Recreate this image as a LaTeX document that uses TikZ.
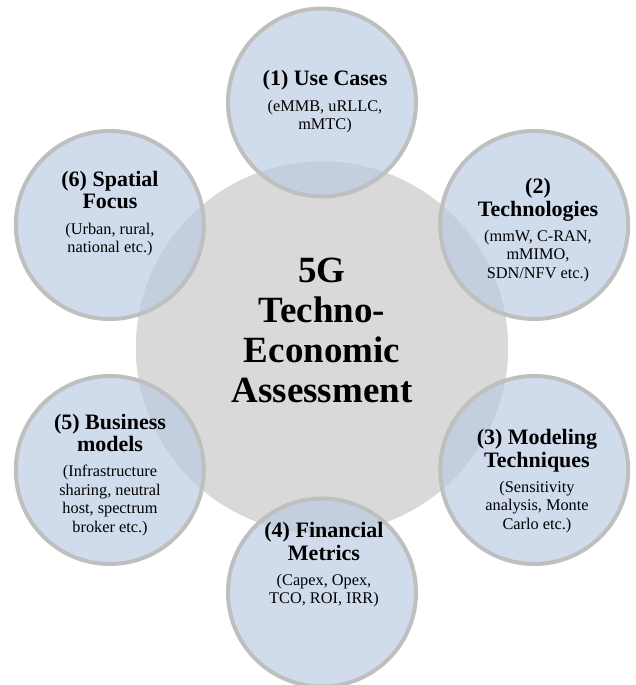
\documentclass[tikz,border=0pt]{standalone}
\usepackage{fontspec}
\setmainfont{Liberation Serif}
\definecolor{centerfill}{HTML}{D9D9D9}
\definecolor{satfill}{HTML}{B9CBE3}
\definecolor{satborder}{HTML}{BFBFBF}
\newcommand{\myhd}{\fontsize{22}{19}\selectfont\bfseries}
\newcommand{\mysub}{\fontsize{16.3}{19}\selectfont\mdseries}
\tikzset{
  hub/.style={circle, fill=centerfill, draw=white, line width=1.5pt, minimum size=374pt, inner sep=0pt},
  sat/.style={circle, fill=satfill, fill opacity=0.67, draw=satborder, draw opacity=1, line width=4pt, minimum size=188pt, inner sep=0pt},
  lbl/.style={align=center, text=black, inner sep=0pt, font=\fontsize{16.3}{18.5}\selectfont},
  hubtext/.style={align=center, text=black, inner sep=0pt, font=\fontsize{37}{40}\selectfont\bfseries}
}
\begin{document}
\begin{tikzpicture}[x=1pt,y=-1pt]
\useasboundingbox (0,0) rectangle (636,685);
\node[hub] (hub) at (322,347.5) {};
\node[sat] (c1) at (322,102.5) {};
\node[sat] (c2) at (534.2,225) {};
\node[sat] (c3) at (534.2,470) {};
\node[sat] (c4) at (322,592.5) {};
\node[sat] (c5) at (109.8,470) {};
\node[sat] (c6) at (109.8,225) {};
\node[hubtext] (tc) at (322,330) {5G\\Techno-\\Economic\\Assessment};
\node[lbl] (t1) at (325,102) {\myhd (1) Use Cases\\[7pt]\mysub (eMMB, uRLLC,\\\mysub mMTC)};
\node[lbl] (t2) at (538,230) {\myhd (2)\\[2pt]\myhd Technologies\\[6pt]\mysub (mmW, C-RAN,\\\mysub mMIMO,\\\mysub SDN/NFV etc.)};
\node[lbl] (t3) at (537,481) {\myhd (3) Modeling\\[2pt]\myhd Techniques\\[6pt]\mysub (Sensitivity\\\mysub analysis, Monte\\\mysub Carlo etc.)};
\node[lbl] (t4) at (324,565) {\myhd (4) Financial\\[2pt]\myhd Metrics\\[6pt]\mysub (Capex, Opex,\\\mysub TCO, ROI, IRR)};
\node[lbl] (t5) at (110,475) {\myhd (5) Business\\[1pt]\myhd models\\[7pt]\mysub (Infrastructure\\\mysub sharing, neutral\\\mysub host, spectrum\\\mysub broker etc.)};
\node[lbl] (t6) at (110,214) {\myhd (6) Spatial\\[2pt]\myhd Focus\\[7pt]\mysub (Urban, rural,\\\mysub national etc.)};
\end{tikzpicture}
\end{document}
